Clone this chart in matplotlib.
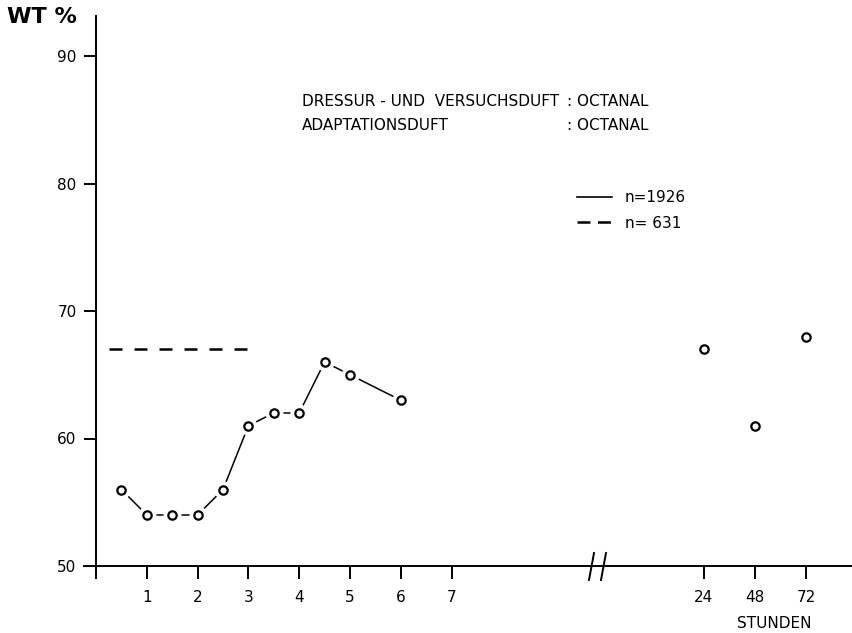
import numpy as np
import matplotlib.pyplot as plt
from matplotlib.lines import Line2D

# Wahlen (WT %) nach Adaptation, Stunden 0.5 - 6
hours = [0.5, 1, 1.5, 2, 2.5, 3, 3.5, 4, 4.5, 5, 6]
wt = [56, 54, 54, 54, 56, 61, 62, 62, 66, 65, 63]

# spaete Werte (24, 48, 72 h)
hours_late = [24, 48, 72]
wt_late = [67, 61, 68]

# Kontrolle ohne Adaptation (n = 631)
ctrl_span = [0.26, 3.0]
ctrl_val = 67

xticks_left = [0, 1, 2, 3, 4, 5, 6, 7]
xticks_right = [24, 48, 72]
yticks = [50, 60, 70, 80, 90]

plt.rcParams['font.family'] = 'DejaVu Sans'

fig = plt.figure(figsize=(8.53, 6.33), dpi=100)

W, H = 853.0, 633.0
bottom = 1 - 566 / H
height = (566 - 16) / H
ylim = (50, 50 + (566 - 16) / 12.75)

px_per_h = 50.8
axl = fig.add_axes([84 / W, bottom, (596 - 84) / W, height])
axl.set_xlim(-12 / px_per_h, (596 - 96) / px_per_h)
axl.set_ylim(*ylim)

px_per_day = 51.0 / 24
axr = fig.add_axes([596 / W, bottom, (853 - 596) / W, height])
axr.set_xlim(24 - (704 - 596) / px_per_day, 24 + (853 - 704) / px_per_day)
axr.set_ylim(*ylim)

for ax in (axl, axr):
    ax.spines['top'].set_visible(False)
    ax.spines['right'].set_visible(False)
    ax.spines['bottom'].set_linewidth(1.4)
    ax.tick_params(axis='x', direction='out', length=9, width=1.4, pad=8,
                   labelsize=11)
    ax.patch.set_visible(False)

axl.spines['left'].set_position(('data', 0))
axl.spines['left'].set_linewidth(1.4)
axl.set_yticks(yticks)
axl.tick_params(axis='y', direction='out', length=9, width=1.4, pad=5,
                labelsize=11)
axl.set_xticks(xticks_left)
axl.set_xticklabels([''] + [str(t) for t in xticks_left[1:]])

axr.spines['left'].set_visible(False)
axr.set_yticks([])
axr.set_xticks(xticks_right)

# Kurve mit weissen Ringen als Luecken um die Kreise
axl.plot(hours, wt, color='black', lw=1.1, zorder=2)
axl.plot(hours, wt, 'o', ms=12, color='white', zorder=3)
axl.plot(hours, wt, 'o', ms=6, mfc='white', mec='black', mew=1.6, zorder=4)
axr.plot(hours_late, wt_late, 'o', ms=6, mfc='white', mec='black', mew=1.6,
         ls='none', zorder=4)

axl.plot(ctrl_span, [ctrl_val, ctrl_val], color='black', lw=1.8,
         dashes=(5.2, 4.8))

# Achsenbruch //
for xp in (589, 601):
    fig.add_artist(Line2D([xp / W, (xp + 5) / W],
                          [1 - 580 / H, 1 - 553 / H],
                          color='black', lw=1.4))

fig.text(7 / W, 1 - 17 / H, 'WT %', fontsize=16, fontweight='bold',
         va='center', ha='left')
fig.text(774 / W, 1 - 623 / H, 'STUNDEN', fontsize=11,
         va='center', ha='center')

hdr = dict(fontsize=11, va='center', ha='left')
fig.text(302 / W, 1 - 102 / H, 'DRESSUR - UND  VERSUCHSDUFT', **hdr)
fig.text(302 / W, 1 - 125 / H, 'ADAPTATIONSDUFT', **hdr)
fig.text(567 / W, 1 - 102 / H, ': OCTANAL', **hdr)
fig.text(567 / W, 1 - 125 / H, ': OCTANAL', **hdr)

handles = [Line2D([], [], color='black', lw=1.2),
           Line2D([], [], color='black', lw=1.8, dashes=(5.2, 3))]
fig.legend(handles, ['n=1926', 'n= 631'], loc='upper left',
           bbox_to_anchor=(577 / W, 1 - 190 / H), frameon=False,
           handlelength=2.3, handletextpad=0.85, labelspacing=0.7,
           fontsize=11, borderpad=0, borderaxespad=0)

fig.savefig('out.png', dpi=100)
